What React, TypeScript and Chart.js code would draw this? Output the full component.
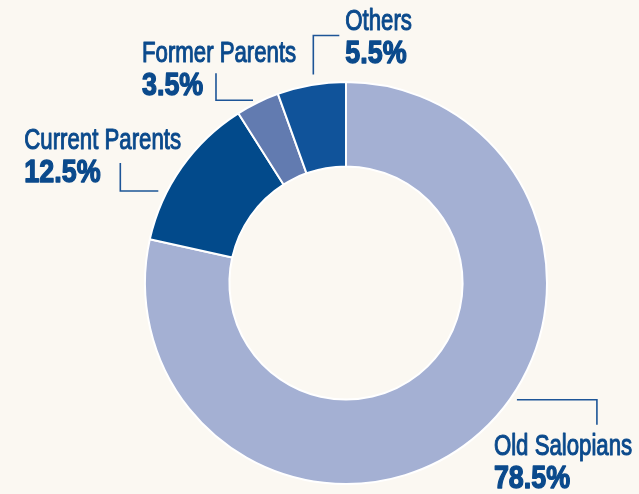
import React, { useEffect, useRef } from "react";
import { Chart, registerables } from "chart.js";

Chart.register(...registerables);

const categories = ["Old Salopians", "Current Parents", "Former Parents", "Others"];
const shares = [78.5, 12.5, 3.5, 5.5];
const sliceColors = ["#a4b0d3", "#024a8b", "#627bb0", "#10539a"];

const BG = "#fbf8f2";
const TEXT = "#0b4a8c";

// leader layout per slice: where on the arc the leader starts (fraction of slice sweep, radial gap),
// first & second elbow segments, and text placement relative to elbow end
const leaderLayout = [
  { frac: 0.44, gap: 6, seg1: [80, 0], seg2: [0, 25], text: [-103, 30] },
  { frac: 0.30, gap: 8, seg1: [-38, 0], seg2: [0, -28], text: [-96, -14] },
  { frac: 0.43, gap: 4, seg1: [-37, 0], seg2: [0, -27], text: [-74, -11] },
  { frac: 0.55, gap: 10, seg1: [0, -39], seg2: [26, 0], text: [6, -6] },
];

const labelPlugin = {
  id: "leaderLabels",
  afterDatasetsDraw(chart: any) {
    const ctx = chart.ctx as CanvasRenderingContext2D;
    const meta = chart.getDatasetMeta(0);
    meta.data.forEach((arc: any, i: number) => {
      const L = leaderLayout[i];
      const { x, y, startAngle, endAngle, outerRadius } = arc.getProps(
        ["x", "y", "startAngle", "endAngle", "outerRadius"],
        true
      );
      const a = startAngle + (endAngle - startAngle) * L.frac;
      const r = outerRadius + L.gap;
      const p0x = x + Math.cos(a) * r;
      const p0y = y + Math.sin(a) * r;
      const p1x = p0x + L.seg1[0];
      const p1y = p0y + L.seg1[1];
      const p2x = p1x + L.seg2[0];
      const p2y = p1y + L.seg2[1];
      ctx.save();
      ctx.strokeStyle = "#1d5597";
      ctx.lineWidth = 1.6;
      ctx.beginPath();
      ctx.moveTo(p0x, p0y);
      ctx.lineTo(p1x, p1y);
      ctx.lineTo(p2x, p2y);
      ctx.stroke();

      const tx = p2x + L.text[0];
      const ty = p2y + L.text[1];
      ctx.fillStyle = TEXT;
      ctx.strokeStyle = TEXT;
      ctx.lineJoin = "round";
      ctx.textAlign = "left";
      ctx.textBaseline = "alphabetic";
      ctx.save();
      ctx.translate(tx, ty);
      ctx.scale(0.74, 1);
      ctx.font = "30px 'Liberation Sans', Arial, sans-serif";
      ctx.lineWidth = 1.1;
      ctx.fillText(categories[i], 0, 0);
      ctx.strokeText(categories[i], 0, 0);
      ctx.restore();
      ctx.save();
      ctx.translate(tx, ty + 33);
      ctx.scale(0.84, 1);
      ctx.font = "bold 32px 'Liberation Sans', Arial, sans-serif";
      ctx.lineWidth = 1.4;
      ctx.fillText(shares[i] + "%", 0, 0);
      ctx.strokeText(shares[i] + "%", 0, 0);
      ctx.restore();
      ctx.restore();
    });
  },
};

export default function App() {
  const ref = useRef<HTMLCanvasElement | null>(null);
  useEffect(() => {
    document.body.style.margin = "0";
    document.body.style.background = BG;
    const chart = new Chart(ref.current as HTMLCanvasElement, {
      type: "doughnut",
      data: {
        labels: categories,
        datasets: [
          {
            data: shares,
            backgroundColor: sliceColors,
            borderColor: "#ffffff",
            borderWidth: 2,
            hoverOffset: 0,
          },
        ],
      },
      options: {
        animation: false,
        responsive: true,
        maintainAspectRatio: false,
        cutout: "58%",
        layout: { padding: { left: 144, right: 91, top: 81, bottom: 9 } },
        plugins: {
          legend: { display: false },
          tooltip: { enabled: false },
        },
      },
      plugins: [labelPlugin],
    });
    return () => chart.destroy();
  }, []);
  return (
    <div style={{ width: 639, height: 494, background: BG, position: "relative" }}>
      <canvas ref={ref} />
    </div>
  );
}
